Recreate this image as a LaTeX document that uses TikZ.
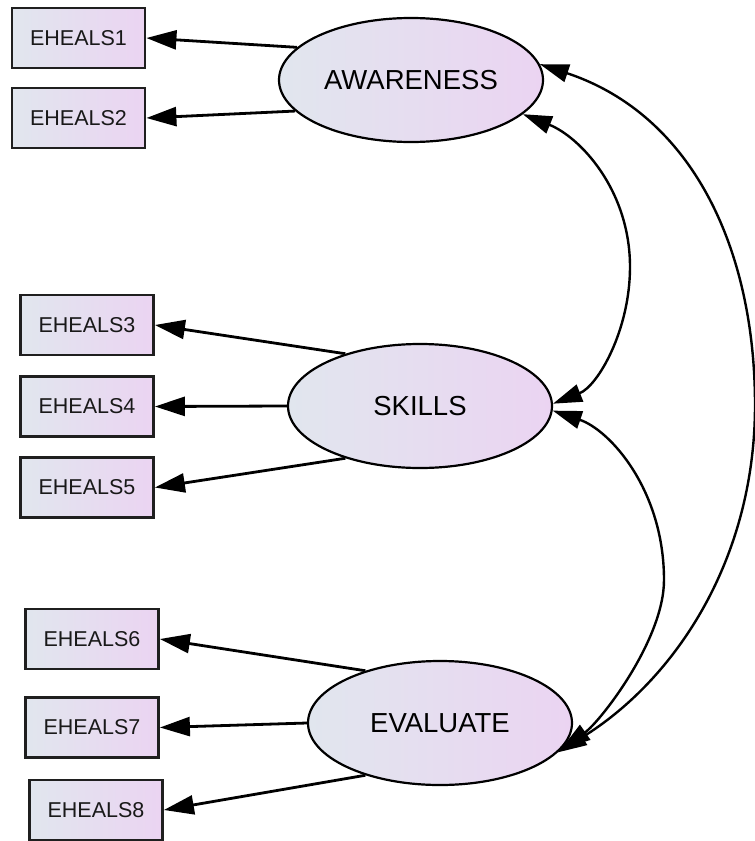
\documentclass[tikz,border=0pt]{standalone}
\usepackage{fontspec}
\setmainfont{Liberation Sans}
\usetikzlibrary{arrows.meta,shapes.geometric}
\definecolor{gL}{HTML}{E1E6EE}
\definecolor{gR}{HTML}{EBD4F2}
\begin{document}
\begin{tikzpicture}[x=1pt,y=-1pt,
  obs/.style={draw=black!88, line width=2.8pt, minimum width=133pt, minimum height=60pt,
    inner sep=0pt, left color=gL, right color=gR, text=black!90,
    font=\fontsize{21.5}{24}\selectfont},
  lat/.style={ellipse, draw=black, line width=2.2pt, minimum width=264pt, minimum height=124pt,
    inner sep=0pt, left color=gL, right color=gR, text=black,
    font=\fontsize{27.5}{30}\selectfont},
  load/.style={line width=2.8pt, -{Triangle[length=30pt,width=19pt]}},
  cov/.style={line width=2.4pt, {Triangle[length=29pt,width=18pt]}-{Triangle[length=29pt,width=18pt]}}]
\useasboundingbox (0,0) rectangle (755,841);

\node[obs] (e1) at (78.5,38) {EHEALS1};
\node[obs] (e2) at (78.5,118) {EHEALS2};
\node[obs] (e3) at (87,325) {EHEALS3};
\node[obs] (e4) at (87,406.5) {EHEALS4};
\node[obs] (e5) at (87,487.5) {EHEALS5};
\node[obs] (e6) at (92,639) {EHEALS6};
\node[obs] (e7) at (92,727.5) {EHEALS7};
\node[obs] (e8) at (96,810) {EHEALS8};

\node[lat] (aw) at (411,80) {AWARENESS};
\node[lat] (sk) at (420,406) {SKILLS};
\node[lat] (ev) at (440,723) {EVALUATE};

\draw[load] (aw.164) -- (e1.east);
\draw[load] (aw.195) -- (e2.east);
\draw[load] (sk.145) -- (e3.east);
\draw[load] (sk.180) -- (e4.east);
\draw[load] (sk.215) -- (e5.east);
\draw[load] (ev.145) -- (e6.east);
\draw[load] (ev.180) -- (e7.east);
\draw[load] (ev.215) -- (e8.east);

\coordinate (m1) at (630,267);
\coordinate (m2) at (664,580);
\coordinate (m3) at (755,405);
\draw[cov] (aw.-17) .. controls (580,137) and (630,190) .. (m1)
  .. controls (630,330) and (598,386) .. (sk.1);
\draw[cov] (sk.-2) .. controls (610,430) and (664,490) .. (m2)
  .. controls (664,640) and (600,722) .. (ev.-12);
\draw[cov] (aw.7) .. controls (693,115) and (755,250) .. (m3)
  .. controls (755,560) and (675,680) .. (ev.-14);
\end{tikzpicture}
\end{document}
